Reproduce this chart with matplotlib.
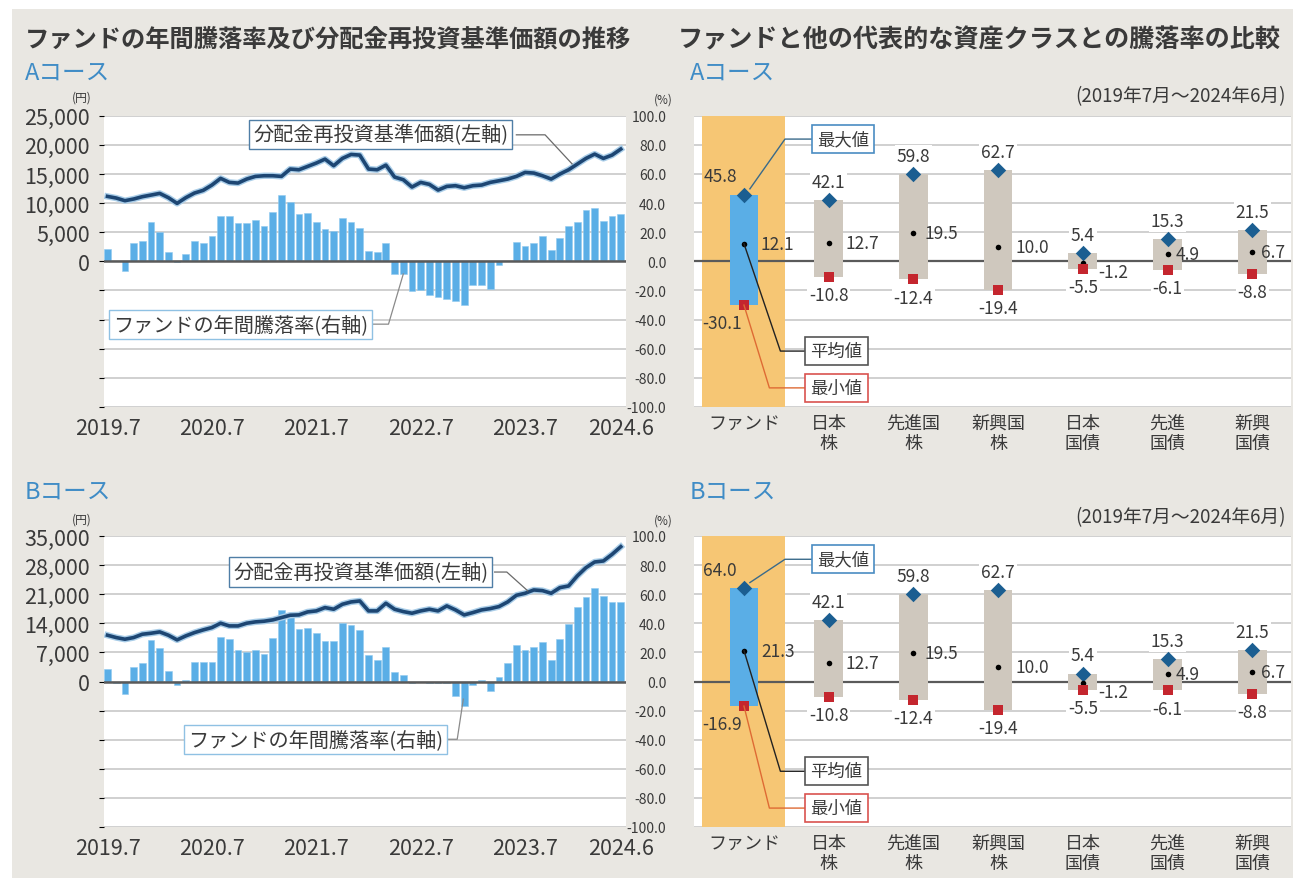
import matplotlib
matplotlib.use('Agg')
import matplotlib.pyplot as plt
import matplotlib.patheffects as pe
from matplotlib.patches import Rectangle
from matplotlib.ticker import FuncFormatter
import numpy as np
import pandas as pd

plt.rcParams['font.family'] = ['Noto Sans CJK JP', 'DejaVu Sans']

# ---------------- data ----------------
months = pd.date_range('2019-07-01', periods=60, freq='MS')
tick_labels = ['2019.7', '2020.7', '2021.7', '2022.7', '2023.7', '2024.6']

nav_a = [11150, 10870, 10410, 10700, 11100, 11380, 11670, 10930, 9950, 10930,
         11730, 12190, 13100, 14250, 13560, 13440, 14130, 14590, 14700, 14700,
         14590, 15850, 15730, 16300, 16880, 17560, 16420, 17680, 18360, 18250,
         15850, 15730, 16530, 14470, 14020, 12760, 13560, 13220, 12240, 12870,
         12990, 12640, 12990, 13100, 13560, 13840, 14130, 14590, 15270, 15160,
         14700, 14130, 14990, 15730, 16700, 17680, 18420, 17680, 18250, 19280]
ret_a = [8.5, 0.3, -6.4, 12.4, 14.2, 27.2, 20.4, 6.6, -0.7, 4.8,
         14.2, 12.4, 17.6, 30.9, 30.9, 26.1, 26.3, 28.6, 24.0, 34.1,
         45.8, 41.0, 32.5, 33.0, 27.2, 22.2, 20.6, 29.7, 27.2, 23.1,
         6.9, 6.2, 12.6, -8.5, -8.5, -20.7, -20.0, -23.0, -24.6, -25.7,
         -27.4, -30.1, -16.1, -16.1, -19.0, -2.8, 0.0, 13.0, 10.8, 12.4,
         17.6, 8.0, 15.8, 24.5, 27.2, 35.5, 36.4, 27.9, 30.9, 32.5]
nav_b = [11130, 10570, 10170, 10570, 11370, 11610, 11930, 11130, 10010, 10970,
         11770, 12410, 12970, 14020, 13370, 13370, 14020, 14340, 14500, 14820,
         15380, 15940, 16020, 16740, 16980, 17780, 17380, 18580, 19140, 19380,
         16980, 16980, 18820, 17380, 16820, 16420, 16980, 17380, 16980, 18180,
         17220, 16020, 16580, 17220, 17540, 18020, 19140, 20740, 21220, 22020,
         21860, 21220, 22580, 22980, 25390, 27390, 28750, 28990, 30590, 32430]
ret_b = [8.9, -0.7, -8.7, 10.3, 13.0, 28.6, 22.9, 7.1, -2.3, 0.9,
         13.5, 13.5, 13.7, 30.9, 29.5, 21.5, 20.4, 21.5, 19.2, 29.7,
         49.0, 45.1, 35.9, 37.1, 33.6, 27.5, 27.5, 40.5, 38.7, 35.5,
         18.1, 14.9, 24.0, 6.2, 4.8, -1.1, 0.0, -1.1, -1.1, -1.1,
         -10.2, -16.9, -2.3, 1.1, -6.8, 3.4, 13.0, 25.2, 21.5, 24.0,
         27.2, 14.6, 29.1, 39.8, 51.5, 58.1, 64.0, 58.8, 54.9, 54.9]

categories = ['ファンド', '日本\n株', '先進国\n株', '新興国\n株', '日本\n国債', '先進\n国債', '新興\n国債']
max_a = [45.8, 42.1, 59.8, 62.7, 5.4, 15.3, 21.5]
mean_a = [12.1, 12.7, 19.5, 10.0, -1.2, 4.9, 6.7]
min_a = [-30.1, -10.8, -12.4, -19.4, -5.5, -6.1, -8.8]
max_b = [64.0, 42.1, 59.8, 62.7, 5.4, 15.3, 21.5]
mean_b = [21.3, 12.7, 19.5, 10.0, -1.2, 4.9, 6.7]
min_b = [-16.9, -10.8, -12.4, -19.4, -5.5, -6.1, -8.8]

# ---------------- style ----------------
W, H = 1293, 879
BG = '#e9e7e2'
TXT = '#3a3a3a'
TITLE_BLUE = '#3f8cc6'
GRID = '#c8c8c8'
ZERO = '#5a5a5a'
BAR_BLUE = '#5aaee6'
NAVY = '#1d4673'
ORANGE = '#f6c674'
GRAYBAR = '#cfc8be'
DIAMOND = '#1b5e91'
SQUARE = '#c4262e'


def fx(px):
    return px / W


def fy(py):
    return 1 - py / H


fig = plt.figure(figsize=(W / 100, H / 100), dpi=100)
fig.patch.set_facecolor('white')
fig.add_artist(Rectangle((fx(12), 0), 1 - fx(12), fy(10), transform=fig.transFigure,
                         facecolor=BG, edgecolor='none', zorder=-10))

# titles
fig.text(fx(25), fy(40), 'ファンドの年間騰落率及び分配金再投資基準価額の推移', fontsize=17.5,
         fontweight='bold', color=TXT, ha='left', va='center')
fig.text(fx(678), fy(40), 'ファンドと他の代表的な資産クラスとの騰落率の比較', fontsize=18.1,
         fontweight='bold', color=TXT, ha='left', va='center')
for (xp, yp, s) in [(25, 73, 'Aコース'), (690, 73, 'Aコース'), (25, 492, 'Bコース'), (690, 492, 'Bコース')]:
    fig.text(fx(xp), fy(yp), s, fontsize=17, color=TITLE_BLUE, ha='left', va='center')
for yp in (98, 520):
    fig.text(fx(82), fy(yp), '(円)', fontsize=8.5, color=TXT, ha='center', va='center')
for yp in (100, 521):
    fig.text(fx(663), fy(yp), '(%)', fontsize=8.5, color=TXT, ha='center', va='center')
for yp in (97, 518):
    fig.text(fx(1286), fy(yp), '(2019年7月～2024年6月)', fontsize=13.5, color=TXT, ha='right', va='center')

AX_H = 291 / H
L_X0, L_W = fx(103.5), 522.5 / W
R_X0, R_W = fx(694), 597 / W
x = np.arange(len(months))
tick_pos = [0, 12, 24, 36, 48, 59]


def left_panel(top_px, nav, ret, nav_max, nav_step, box1, conn1, box2, conn2):
    ax = fig.add_axes([L_X0, fy(top_px + 291), L_W, AX_H])
    ax.set_facecolor('white')
    ax.set_xlim(-0.46, 59.6)
    ax.set_ylim(-100, 100)
    ax.set_yticks(np.arange(-100, 101, 20))
    ax.grid(axis='y', color=GRID, lw=1.2, zorder=0)
    ax.set_axisbelow(True)
    ax.bar(x, ret, width=0.78, color=BAR_BLUE, edgecolor='#92cbef', linewidth=0.4, zorder=2)
    ax.axhline(0, color=ZERO, lw=1.8, zorder=2.5)
    ax.tick_params(axis='y', left=False, right=False, labelleft=False)
    ax.set_xticks(tick_pos)
    ax.set_xticklabels(tick_labels, fontsize=15.5, color=TXT)
    ax.tick_params(axis='x', length=0, pad=7)
    for s in ax.spines.values():
        s.set_visible(False)
    # fund return annotation (right axis)
    ax.plot(conn2[0], conn2[1], color='#8a8a8a', lw=0.9, zorder=4)
    ax.text(box2[0], box2[1], 'ファンドの年間騰落率(右軸)', fontsize=14.5, color=TXT, ha='center', va='center',
            zorder=5, bbox=dict(boxstyle='square,pad=0.2', fc='white', ec='#8fc1e3', lw=1.0))

    ax2 = ax.twinx()
    ax2.set_ylim(-nav_max, nav_max)
    ax2.set_yticks(np.arange(0, nav_max + 1, nav_step))
    ax2.yaxis.set_major_formatter(FuncFormatter(lambda v, p: f'{int(v):,}'))
    ax2.yaxis.tick_left()
    ax2.tick_params(axis='y', length=0, pad=10, labelsize=15.5, labelcolor=TXT)
    for s in ax2.spines.values():
        s.set_visible(False)
    ax2.plot(x, nav, color=NAVY, lw=2.6, zorder=3, solid_joinstyle='round',
             path_effects=[pe.Stroke(linewidth=4.6, foreground='#a9cde8'), pe.Normal()])
    ax2.plot(conn1[0], conn1[1], color='#6a6a6a', lw=0.9, zorder=4)
    ax2.text(box1[0], box1[1], '分配金再投資基準価額(左軸)', fontsize=14.5, color=TXT, ha='center', va='center',
             zorder=5, bbox=dict(boxstyle='square,pad=0.2', fc='white', ec='#4f7ea6', lw=1.0))
    return ax


left_panel(116.8, nav_a, ret_a, 25000, 5000,
           (31.4, 21730), ([47.0, 50.3, 53.4], [21730, 21730, 16740]),
           (15.3, -43.2), ([30.3, 32.3, 34.0], [-43.2, -43.2, -8.7]))
left_panel(537.0, nav_b, ret_b, 35000, 7000,
           (29.1, 26330), ([44.5, 45.9, 48.3], [26330, 26330, 21820]),
           (23.9, -39.7), ([38.9, 40.2, 40.9], [-39.7, -39.7, -12.1]))

# label layout (offsets in data units)
max_dx = [-0.28, 0, 0, 0, 0, 0, 0]
mean_dx = [0.2, 0.2, 0.13, 0.2, 0.18, 0.1, 0.1]
mean_dy = [0, 0, 0, 0, -6, 0, 0]
min_dx = [-0.26, 0, 0, 0, 0, 0, 0]


def right_panel(top_px, mx, mn_, mi):
    ax = fig.add_axes([R_X0, fy(top_px + 291), R_W, AX_H])
    ax.set_facecolor('white')
    ax.set_xlim(-0.59, 6.458)
    ax.set_ylim(-100, 100)
    yt = np.arange(-100, 101, 20)
    ax.set_yticks(yt)
    ax.set_yticklabels([f'{v:.1f}' for v in yt], fontsize=10, color=TXT)
    ax.tick_params(axis='y', length=0, pad=20)
    ax.grid(axis='y', color=GRID, lw=1.2, zorder=0)
    ax.set_axisbelow(True)
    cx = np.arange(len(categories))
    ax.set_xticks(cx)
    ax.set_xticklabels(categories, fontsize=13, color=TXT, linespacing=1.15)
    ax.tick_params(axis='x', length=0, pad=5)
    for s in ax.spines.values():
        s.set_visible(False)
    ax.axvspan(-0.49, 0.49, color=ORANGE, zorder=0.8, lw=0)
    colors = [BAR_BLUE] + [GRAYBAR] * (len(categories) - 1)
    widths = [0.32] + [0.34] * (len(categories) - 1)
    ax.bar(cx, np.subtract(mx, mi), bottom=mi, width=widths, color=colors, zorder=2)
    ax.axhline(0, color=ZERO, lw=1.6, zorder=1.5)
    ax.scatter(cx, mx, marker='D', s=62, color=DIAMOND, zorder=4, linewidths=0)
    ax.scatter(cx, mn_, marker='o', s=16, color='black', zorder=4, linewidths=0)
    ax.scatter(cx, mi, marker='s', s=48, color=SQUARE, zorder=4, linewidths=0)
    for i in cx:
        bb = None if i == 0 else dict(boxstyle='square,pad=0.1', fc='white', ec='none')
        ax.text(i + max_dx[i], mx[i] + 12.5, f'{mx[i]:.1f}', fontsize=12.5, color=TXT,
                ha='center', va='center', zorder=3, bbox=bb)
        ax.text(i + mean_dx[i], mn_[i] + mean_dy[i], f'{mn_[i]:.1f}', fontsize=12.5, color=TXT,
                ha='left', va='center', zorder=3)
        ax.text(i + min_dx[i], mi[i] - 12.5, f'{mi[i]:.1f}', fontsize=12.5, color=TXT,
                ha='center', va='center', zorder=3, bbox=bb)
    # callouts
    ax.plot([1.17, 0.484, 0.07], [84, 84, mx[0] + 4], color='#3a6a8a', lw=1.0, zorder=5)
    ax.text(1.17, 84, '最大値', fontsize=12.5, color=TXT, ha='center', va='center', zorder=6,
            bbox=dict(boxstyle='square,pad=0.3', fc='white', ec='#4a8cc2', lw=1.2))
    ax.plot([1.09, 0.43, 0.0], [-61.7, -61.7, mn_[0]], color='#222222', lw=1.0, zorder=5)
    ax.text(1.09, -61.7, '平均値', fontsize=12.5, color=TXT, ha='center', va='center', zorder=6,
            bbox=dict(boxstyle='square,pad=0.3', fc='white', ec='#555555', lw=1.2))
    ax.plot([1.09, 0.30, 0.0], [-87, -87, mi[0]], color='#de6a34', lw=1.0, zorder=5)
    ax.text(1.09, -87, '最小値', fontsize=12.5, color=TXT, ha='center', va='center', zorder=6,
            bbox=dict(boxstyle='square,pad=0.3', fc='white', ec='#d9534f', lw=1.2))
    return ax


right_panel(116.8, max_a, mean_a, min_a)
right_panel(537.0, max_b, mean_b, min_b)

fig.savefig('out.png', dpi=100, facecolor=fig.get_facecolor())
